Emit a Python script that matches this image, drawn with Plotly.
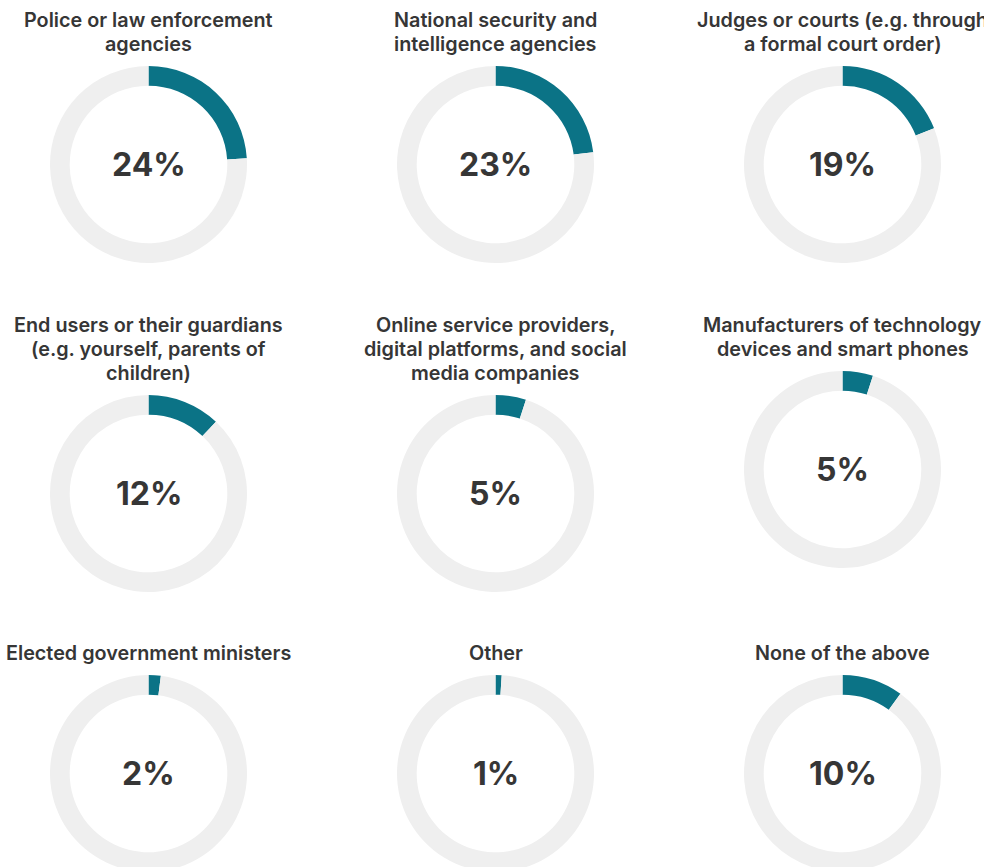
import plotly.graph_objects as go

# ---- data ----
titles = [
    "Police or law enforcement<br>agencies",
    "National security and<br>intelligence agencies",
    "Judges or courts (e.g. through<br>a formal court order)",
    "End users or their guardians<br>(e.g. yourself, parents of<br>children)",
    "Online service providers,<br>digital platforms, and social<br>media companies",
    "Manufacturers of technology<br>devices and smart phones",
    "Elected government ministers",
    "Other",
    "None of the above",
]
values = [24, 23, 19, 12, 5, 5, 2, 1, 10]
labels = ["Yes", "Rest"]

# ---- layout constants ----
W, H = 984, 875
col_cx = [148.5, 495.5, 842.5]
row_top = [20, 325, 653]
line_gap = 24
R = 98.5
TEAL = "#0b7386"
GREY = "#efefef"
TXT = "#363636"

fig = go.Figure()
annotations = []
for i, (t, v) in enumerate(zip(titles, values)):
    r, c = divmod(i, 3)
    cx = col_cx[c]
    lines = t.split("<br>")
    for k, ln in enumerate(lines):
        ly = row_top[r] + k * line_gap
        annotations.append(dict(
            text=ln, x=cx / W, y=1 - ly / H, xref="paper", yref="paper",
            xanchor="center", yanchor="middle", showarrow=False,
            font=dict(family="Inter", size=19.8, color=TXT, weight=600),
        ))
    cy = row_top[r] + (len(lines) - 1) * line_gap + 22 + R
    fig.add_trace(go.Pie(
        labels=labels, values=[v, 100 - v], hole=0.8, sort=False,
        direction="clockwise", rotation=0,
        marker=dict(colors=[TEAL, GREY], line=dict(width=0)),
        textinfo="none", hoverinfo="skip", showlegend=False,
        domain=dict(x=[(cx - R) / W, (cx + R) / W],
                    y=[max(0, 1 - (cy + R) / H), 1 - (cy - R) / H]),
    ))
    annotations.append(dict(
        text=f"{v}%", x=cx / W, y=1 - cy / H, xref="paper", yref="paper",
        xanchor="center", yanchor="middle", showarrow=False,
        font=dict(family="Inter", size=32, color=TXT, weight=700),
    ))

fig.update_layout(
    width=W, height=H, margin=dict(l=0, r=0, t=0, b=0),
    paper_bgcolor="white", plot_bgcolor="white",
    annotations=annotations,
)
fig.write_html("out.html")
